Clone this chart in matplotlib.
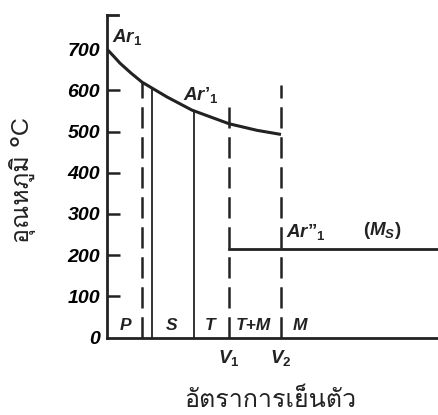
import matplotlib
matplotlib.use("Agg")
import matplotlib.pyplot as plt
import numpy as np

# ---- data (x in arbitrary cooling-rate units, y in °C) ----
curve_x = [0, 7, 13, 24, 35, 60, 85, 122, 150, 174]
curve_y = [700, 682, 666, 642, 620, 584, 552, 519, 503, 493]
ms_temp = 215
v1_x = 122
v2_x = 174
dash1_x = 35
solid_x = [45, 87]
v1_top = 560
v2_top = 612
region_labels = ["P", "S", "T", "T+M", "M"]
region_x = [18, 65, 103, 146, 193]
yticks = [0, 100, 200, 300, 400, 500, 600, 700]

plt.rcParams['mathtext.fontset'] = 'custom'
plt.rcParams['mathtext.it'] = 'Liberation Sans:italic:bold'
plt.rcParams['mathtext.rm'] = 'Liberation Sans:bold'

fig = plt.figure(figsize=(4.38, 4.15), dpi=100)
ax = fig.add_axes([107/438, (415-337.5)/415, (438-107)/438, (337.5-15)/415])
ax.set_xlim(0, 331)
ax.set_ylim(0, 783)

lc = '#222222'
for s in ['top', 'right']:
    ax.spines[s].set_visible(False)
for s in ['left', 'bottom']:
    ax.spines[s].set_linewidth(2.0)
    ax.spines[s].set_color(lc)

cx = np.array(curve_x, float); cy = np.array(curve_y, float)
ax.plot(cx, cy, color=lc, lw=2.2, solid_capstyle='butt', solid_joinstyle='round')

def curve_at(x):
    return float(np.interp(x, cx, cy))

dash = (0, (8.5, 3.5))
ax.plot([dash1_x, dash1_x], [0, curve_at(dash1_x)], color=lc, lw=1.8, linestyle=dash)
for sx in solid_x:
    ax.plot([sx, sx], [0, curve_at(sx)], color=lc, lw=1.3)
ax.plot([v1_x, v1_x], [0, v1_top], color=lc, lw=1.8, linestyle=dash)
ax.plot([v2_x, v2_x], [0, v2_top], color=lc, lw=1.8, linestyle=dash)
ax.plot([v1_x, 331], [ms_temp, ms_temp], color=lc, lw=2.0, clip_on=False)
ax.plot([0, 11], [783, 783], color=lc, lw=2.0, clip_on=False)

ax.set_xticks([])
ax.set_yticks(yticks)
ax.set_yticklabels([str(t) for t in yticks], fontsize=14, fontweight='bold',
                   fontstyle='italic', family='Liberation Sans')
ax.tick_params(axis='y', direction='in', length=9, width=1.8, color=lc, pad=5)
ticks = ax.yaxis.get_major_ticks()
ticks[0].tick1line.set_visible(False)
ticks[-1].tick1line.set_visible(False)

tk = dict(fontsize=13.5, color=lc, va='baseline')
ax.text(5, 717, r'$\mathit{Ar_1}$', ha='left', **tk)
ax.text(76, 576, '$\\mathit{Ar\u2019_1}$', ha='left', **tk)
ax.text(179, 244, '$\\mathit{Ar\u201d_1}$', ha='left', **tk)
ax.text(256, 249, r"$\mathit{(M_S)}$", ha='left', **tk)
for lab, x in zip(region_labels, region_x):
    ax.text(x, 18, lab, fontsize=12.5, fontweight='bold', fontstyle='italic',
            family='Liberation Sans', ha='center', va='baseline', color=lc)
ax.text(v1_x, -62, r'$\mathit{V_1}$', ha='center', **tk)
ax.text(v2_x, -62, r'$\mathit{V_2}$', ha='center', **tk)

fams = ['Loma', 'DejaVu Sans']
fig.text(270/438, 1 - 400/415, 'อัตราการเย็นตัว', fontsize=18, ha='center', va='center',
         family=fams, color=lc)
fig.text(22/438, 1 - 180/415, 'อุณหภูมิ °C', fontsize=18, ha='center', va='center',
         rotation=90, family=fams, color=lc)

fig.savefig('out.png', dpi=100)
